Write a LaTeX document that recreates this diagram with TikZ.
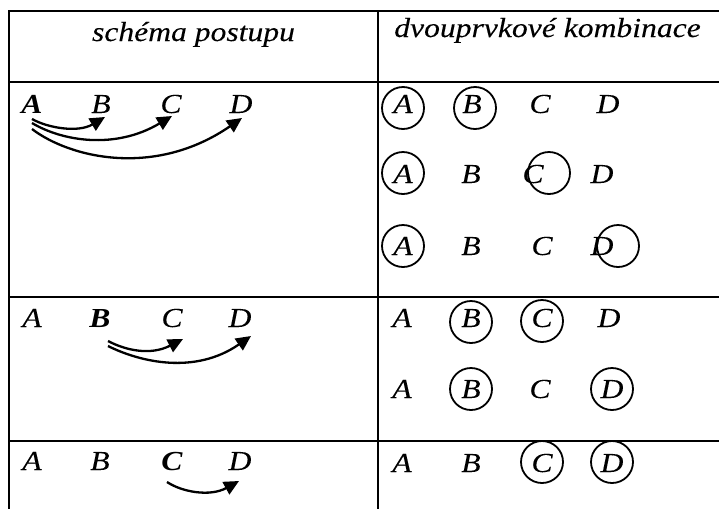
\documentclass[tikz,border=0pt]{standalone}
\usepackage{fontspec}
\setmainfont{Liberation Serif}[FakeStretch=1.15, ItalicFeatures={FakeBold=0.12}]
\usetikzlibrary{arrows.meta}
\begin{document}
\begin{tikzpicture}[x=1pt,y=-1pt,
  rule/.style={line width=2.5pt},
  lt/.style={anchor=base, inner sep=0pt, font=\fontsize{27.5}{32}\selectfont\itshape},
  ring/.style={circle, draw, line width=1.8pt, minimum size=42pt, inner sep=0pt},
  arr/.style={line width=2.3pt, -{Triangle[length=15pt,width=14pt]}}]
\useasboundingbox (0,0) rectangle (719,509);
% table rules
\draw[rule] (719,11) -- (9,11) -- (9,509);
\draw[rule] (378,11) -- (378,509);
\draw[rule] (9,82) -- (719,82);
\draw[rule] (9,297) -- (719,297);
\draw[rule] (9,441) -- (719,441);
% headers
\node[lt] (h1) at (193.5,41) {schéma postupu};
\node[lt] (h2) at (547.5,37) {dvouprvkové kombinace};
% left column, section 1
\node[lt] (l1A) at (32,113) {\textbf{A}};
\node[lt] (l1B) at (101,113) {B};
\node[lt] (l1C) at (171,113) {C};
\node[lt] (l1D) at (241,113) {D};
\coordinate (s1B) at (32,119); \coordinate (t1B) at (105,117);
\coordinate (s1C) at (32,123); \coordinate (t1C) at (172,116);
\coordinate (s1D) at (32,129); \coordinate (t1D) at (242,118);
\draw[arr] (s1B) .. controls (48,128) and (78,133) .. (t1B);
\draw[arr] (s1C) .. controls (62,141) and (115,150) .. (t1C);
\draw[arr] (s1D) .. controls (70,158) and (155,178) .. (t1D);
% left column, section 2
\node[lt] (l2A) at (32,327) {A};
\node[lt] (l2B) at (100,327) {\textbf{B}};
\node[lt] (l2C) at (172,327) {C};
\node[lt] (l2D) at (240,327) {D};
\coordinate (s2C) at (108,341); \coordinate (t2C) at (183,339);
\coordinate (s2D) at (108,346); \coordinate (t2D) at (251,336);
\draw[arr] (s2C) .. controls (125,350) and (150,356) .. (t2C);
\draw[arr] (s2D) .. controls (140,362) and (195,375) .. (t2D);
% left column, section 3
\node[lt] (l3A) at (32,470) {A};
\node[lt] (l3B) at (100,470) {B};
\node[lt] (l3C) at (172,470) {\textbf{C}};
\node[lt] (l3D) at (240,470) {D};
\coordinate (s3D) at (167,482); \coordinate (t3D) at (239,481);
\draw[arr] (s3D) .. controls (182,492) and (210,497) .. (t3D);
% right column, section 1
\node[lt] (a1A) at (403,113) {A};
\node[lt] (a1B) at (472,113) {B};
\node[lt] (a1C) at (540,113) {C};
\node[lt] (a1D) at (608,113) {D};
\node[ring] (r1A) at (403,108) {};
\node[ring] (r1B) at (475,108) {};
\node[lt] (b1A) at (403,183) {A};
\node[lt] (b1B) at (471,183) {B};
\node[lt] (b1C) at (533,183) {C};
\node[lt] (b1D) at (602,183) {D};
\node[ring] (q1A) at (403,173) {};
\node[ring] (q1C) at (549,173) {};
\node[lt] (c1A) at (403,255) {A};
\node[lt] (c1B) at (471,255) {B};
\node[lt] (c1C) at (542,255) {C};
\node[lt] (c1D) at (602,255) {D};
\node[ring] (p1A) at (403,246) {};
\node[ring] (p1D) at (618,246) {};
% right column, section 2
\node[lt] (a2A) at (402,327) {A};
\node[lt] (a2B) at (471,327) {B};
\node[lt] (a2C) at (542,327) {C};
\node[lt] (a2D) at (609,327) {D};
\node[ring] (r2B) at (471,322) {};
\node[ring] (r2C) at (542,321) {};
\node[lt] (b2A) at (402,398) {A};
\node[lt] (b2B) at (471,398) {B};
\node[lt] (b2C) at (540,398) {C};
\node[lt] (b2D) at (612,398) {D};
\node[ring] (q2B) at (471,389) {};
\node[ring] (q2D) at (612,389) {};
% right column, section 3
\node[lt] (a3A) at (402,472) {A};
\node[lt] (a3B) at (471,472) {B};
\node[lt] (a3C) at (542,472) {C};
\node[lt] (a3D) at (612,472) {D};
\node[ring] (r3C) at (542,462) {};
\node[ring] (r3D) at (612,462) {};
\end{tikzpicture}
\end{document}
